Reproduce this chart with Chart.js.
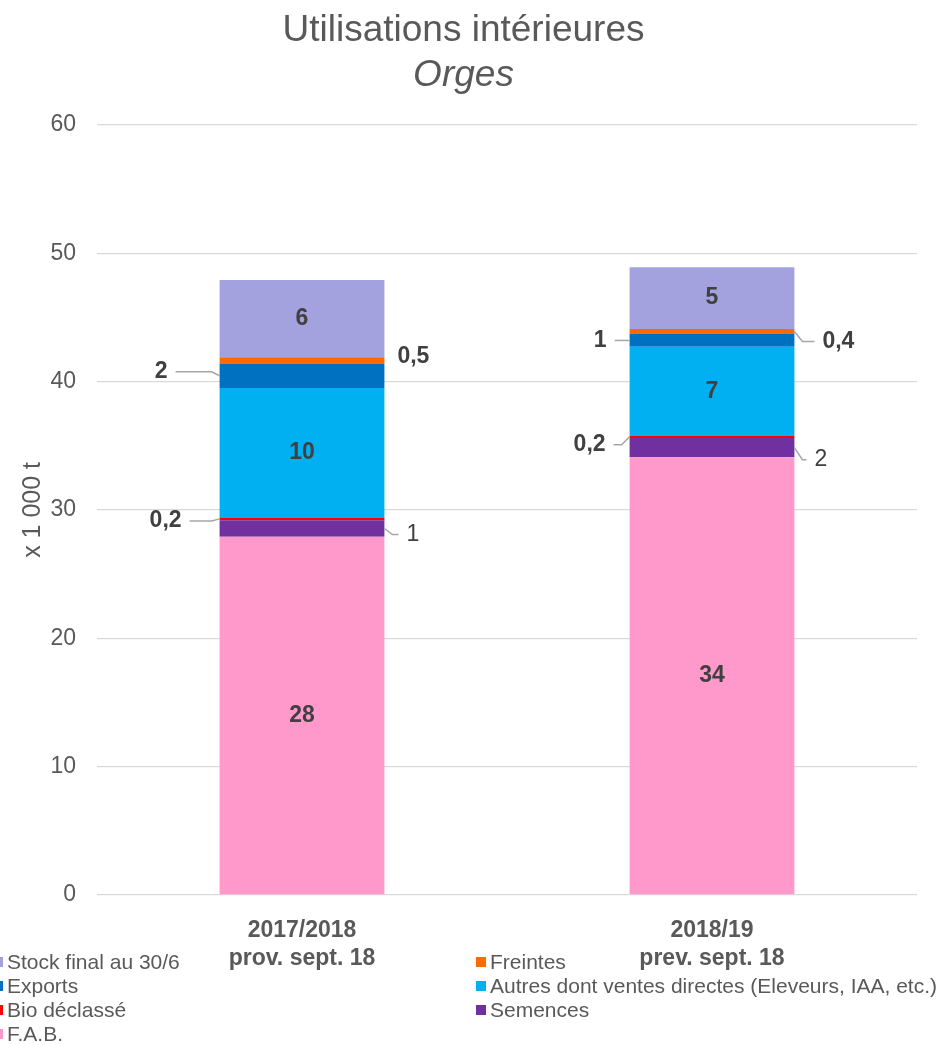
<!DOCTYPE html>
<html>
<head>
<meta charset="utf-8">
<script src="https://cdn.jsdelivr.net/npm/chart.js@4.4.0/dist/chart.umd.min.js"></script>
<style>
  html, body { margin: 0; padding: 0; background: #fff; }
  #wrap { width: 945px; height: 1045px; }
</style>
</head>
<body>
<div id="wrap"><canvas id="myChart"></canvas></div>
<script>
// campagnes (x axis)
const campaigns = [["2017/2018", "prov. sept. 18"], ["2018/19", "prev. sept. 18"]];
// series, x 1 000 t (bottom to top of the stack)
const fab = [27.9, 34.1];
const semences = [1.3, 1.5];
const bioDeclasse = [0.2, 0.2];
const autres = [10.1, 6.9];
const exportsT = [1.9, 1.0];
const freintes = [0.5, 0.4];
const stockFinal = [6.0, 4.8];
const yTicks = [0, 10, 20, 30, 40, 50, 60];

const FONT = "'Liberation Sans', Arial, sans-serif";
const TEXT = "#595959";

// where each value label goes (inside the bar or outside with a leader line)
const labelPlacement = {
  "F.A.B.": { side: "inside" },
  "Semences": { side: "right", gap: [22, 20], dy: [6, 12], line: [true, true], bold: false },
  "Bio déclassé": { side: "left", gap: [38, 24], dy: [2, 8], line: [true, true], bold: true },
  "Autres dont ventes directes (Eleveurs, IAA, etc.)": { side: "inside" },
  "Exports": { side: "left", gap: [52, 23], dy: [-4, 0], line: [true, true], bold: true },
  "Freintes": { side: "right", gap: [13, 28], dy: [-4, 10], line: [false, true], bold: true },
  "Stock final au 30/6": { side: "inside" }
};

function fmt(v) {
  if (v < 1) return v.toFixed(1).replace(".", ",");
  return String(Math.round(v));
}

const valueLabels = {
  id: "valueLabels",
  afterDatasetsDraw(chart) {
    const ctx = chart.ctx;
    ctx.save();
    chart.data.datasets.forEach((ds, di) => {
      const meta = chart.getDatasetMeta(di);
      const place = labelPlacement[ds.label];
      meta.data.forEach((bar, i) => {
        const txt = fmt(ds.data[i]);
        const mid = (bar.y + bar.base) / 2;
        const half = bar.width / 2;
        ctx.fillStyle = "#404040";
        ctx.textBaseline = "middle";
        if (place.side === "inside") {
          ctx.font = "bold 23px " + FONT;
          ctx.textAlign = "center";
          ctx.fillText(txt, bar.x, mid);
          return;
        }
        ctx.font = (place.bold ? "bold " : "") + "23px " + FONT;
        const ty = mid + place.dy[i];
        let edge, tx;
        if (place.side === "left") {
          edge = bar.x - half;
          tx = edge - place.gap[i];
          ctx.textAlign = "right";
        } else {
          edge = bar.x + half;
          tx = edge + place.gap[i];
          ctx.textAlign = "left";
        }
        ctx.fillText(txt, tx, ty);
        if (place.line[i]) {
          const dir = place.side === "left" ? -1 : 1;
          const end = place.side === "left" ? tx + 8 : tx - 8;
          ctx.strokeStyle = "#A6A6A6";
          ctx.lineWidth = 1.5;
          ctx.beginPath();
          ctx.moveTo(edge, mid);
          ctx.lineTo(edge + dir * 8, ty);
          ctx.lineTo(end, ty);
          ctx.stroke();
        }
      });
    });
    ctx.restore();
  }
};

// legend in two columns, stack order from the top
const sideLegend = {
  id: "sideLegend",
  afterDraw(chart) {
    const ctx = chart.ctx;
    const items = chart.data.datasets.slice().reverse();
    const colX = [-7, 476];
    const rowY = 962;
    const step = 24;
    ctx.save();
    ctx.font = "21px " + FONT;
    ctx.textBaseline = "middle";
    ctx.textAlign = "left";
    items.forEach((ds, k) => {
      const x = colX[k % 2];
      const y = rowY + Math.floor(k / 2) * step;
      ctx.fillStyle = ds.backgroundColor;
      ctx.fillRect(x, y - 5, 10, 10);
      ctx.fillStyle = TEXT;
      ctx.fillText(ds.label, x + 14, y + 1);
    });
    ctx.restore();
  }
};

const ctx = document.getElementById("myChart").getContext("2d");
const myChart = new Chart(ctx, {
  type: "bar",
  data: {
    labels: campaigns,
    datasets: [
      { label: "F.A.B.", data: fab, backgroundColor: "#FF99CC" },
      { label: "Semences", data: semences, backgroundColor: "#7030A0" },
      { label: "Bio déclassé", data: bioDeclasse, backgroundColor: "#FF0000" },
      { label: "Autres dont ventes directes (Eleveurs, IAA, etc.)", data: autres, backgroundColor: "#00B0F0" },
      { label: "Exports", data: exportsT, backgroundColor: "#0070C0" },
      { label: "Freintes", data: freintes, backgroundColor: "#FF6A00" },
      { label: "Stock final au 30/6", data: stockFinal, backgroundColor: "#A4A2DE" }
    ]
  },
  options: {
    responsive: true,
    maintainAspectRatio: false,
    animation: false,
    datasets: { bar: { barPercentage: 0.402, categoryPercentage: 1 } },
    layout: { padding: { left: 10, right: 28, top: 0, bottom: 0 } },
    plugins: {
      legend: { display: false },
      tooltip: { enabled: false },
      title: {
        display: true,
        text: "Utilisations intérieures",
        color: TEXT,
        font: { family: FONT, size: 37, weight: "normal", lineHeight: 1.2 },
        padding: { top: 9, bottom: 0 }
      },
      subtitle: {
        display: true,
        text: "Orges",
        color: TEXT,
        font: { family: FONT, size: 37, style: "italic", lineHeight: 1.2 },
        padding: { top: 0, bottom: 27 }
      }
    },
    scales: {
      x: {
        stacked: true,
        grid: { display: false },
        border: { display: false },
        ticks: {
          color: TEXT,
          padding: 14,
          font: { family: FONT, size: 23, weight: "bold", lineHeight: 1.2 }
        },
        afterFit(scale) { scale.height = 150; }
      },
      y: {
        stacked: true,
        min: 0,
        max: 60,
        afterBuildTicks(scale) { scale.ticks = yTicks.map(v => ({ value: v })); },
        grid: { color: "#D9D9D9", lineWidth: 1.3, drawTicks: false },
        border: { display: false },
        ticks: {
          color: TEXT,
          padding: 21,
          font: { family: FONT, size: 23 }
        },
        title: {
          display: true,
          text: "x 1 000 t",
          color: TEXT,
          font: { family: FONT, size: 25, lineHeight: 1.2 },
          padding: { top: 8, bottom: 0 }
        },
        afterFit(scale) { scale.width = 87; }
      }
    }
  },
  plugins: [valueLabels, sideLegend]
});
</script>
</body>
</html>
